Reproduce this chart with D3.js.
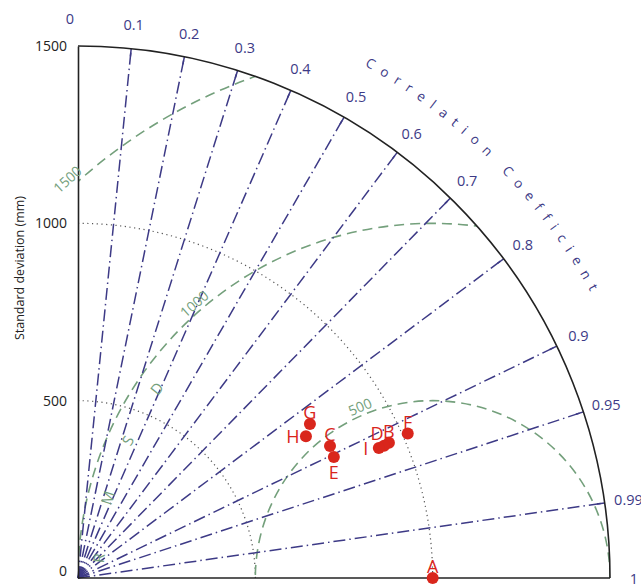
<!DOCTYPE html>
<html>
<head>
<meta charset="utf-8">
<script src="https://cdn.jsdelivr.net/npm/d3@7"></script>
<style>
  body { margin: 0; background: #fff; }
  text { font-family: "Open Sans", "Noto Sans", sans-serif; }
</style>
</head>
<body>
<svg width="641" height="585"></svg>
<script>
// model skill: standard deviation (mm) and correlation with the observed series
var names = ["A", "B", "C", "D", "E", "F", "G", "H", "I"];
var stdDevs = [1000, 956, 802, 940, 798, 1015, 785, 757, 924];
var correlations = [1, 0.917, 0.886, 0.918, 0.904, 0.916, 0.833, 0.849, 0.918];
var labelSides = ["top", "top", "top", "topleft", "bottom", "top", "top", "left", "left"];

var corrTicks = [0, 0.1, 0.2, 0.3, 0.4, 0.5, 0.6, 0.7, 0.8, 0.9, 0.95, 0.99, 1];
var stdTicks = [0, 500, 1000, 1500];
var stdArcs = [500, 1000];
var rmsdArcs = [500, 1000, 1500];
var refStd = 1000;
var maxStd = 1500;

var svg = d3.select("svg");
var x0 = 78, y0 = 578;
var r = d3.scaleLinear().domain([0, maxStd]).range([0, 532]);
var y = d3.scaleLinear().domain([0, maxStd]).range([y0, y0 - 532]);

var blue = "#3d3a86", green = "#74a07c", red = "#d9261c";

function px(std, corr) { return x0 + r(std) * corr; }
function py(std, corr) { return y0 - r(std) * Math.sin(Math.acos(corr)); }

// clip everything to the quarter disc
var R = r(maxStd);
svg.append("clipPath").attr("id", "quad")
  .append("path")
  .attr("d", "M" + x0 + "," + y0 + "L" + x0 + "," + (y0 - R) +
    "A" + R + "," + R + " 0 0 1 " + (x0 + R) + "," + y0 + "Z");

var g = svg.append("g").attr("clip-path", "url(#quad)");

// standard deviation arcs (dotted)
stdArcs.forEach(function (s) {
  var p = d3.path();
  p.arc(x0, y0, r(s), -Math.PI / 2, 0);
  g.append("path").attr("d", p.toString())
    .attr("fill", "none").attr("stroke", "#555")
    .attr("stroke-width", 1.2).attr("stroke-dasharray", "1.2,3.5");
});

// RMSD arcs around the reference (dashed green)
var cx = x0 + r(refStd);
rmsdArcs.forEach(function (v) {
  g.append("circle").attr("cx", cx).attr("cy", y0).attr("r", r(v))
    .attr("fill", "none").attr("stroke", green)
    .attr("stroke-width", 1.6).attr("stroke-dasharray", "10,6");
});

// correlation spokes (dash-dot)
corrTicks.slice(1, -1).forEach(function (c) {
  svg.append("line")
    .attr("x1", x0).attr("y1", y0)
    .attr("x2", px(maxStd, c)).attr("y2", py(maxStd, c))
    .attr("stroke", blue).attr("stroke-width", 1.5)
    .attr("stroke-dasharray", "12,4,1.5,4");
  svg.append("line")
    .attr("x1", px(maxStd - 22, c)).attr("y1", py(maxStd - 22, c))
    .attr("x2", px(maxStd, c)).attr("y2", py(maxStd, c))
    .attr("stroke", blue).attr("stroke-width", 1.5);
});

// outer arc and axes
var outer = d3.path();
outer.arc(x0, y0, R, -Math.PI / 2, 0);
svg.append("path").attr("d", outer.toString())
  .attr("fill", "none").attr("stroke", "#222").attr("stroke-width", 1.6);
svg.append("line").attr("x1", x0).attr("y1", y0).attr("x2", x0 + R).attr("y2", y0)
  .attr("stroke", "#222").attr("stroke-width", 1.6);

var yAxis = svg.append("g")
  .attr("transform", "translate(" + x0 + ",0)")
  .call(d3.axisLeft(y).tickValues(stdTicks).tickFormat(d3.format("d"))
    .tickSize(0).tickPadding(11));
yAxis.select(".domain").attr("stroke", "#222").attr("stroke-width", 1.6);
yAxis.selectAll("text").attr("font-size", 14).attr("fill", "#222")
  .style("font-family", "'Open Sans', sans-serif")
  .attr("y", function (d) { return d === 0 ? -7 : 0; });

svg.append("text")
  .attr("transform", "translate(19," + 268 + ") rotate(-90)")
  .attr("text-anchor", "middle").attr("dominant-baseline", "central")
  .attr("font-size", 12.5).attr("fill", "#222")
  .text("Standard deviation (mm)");

// correlation tick labels
svg.selectAll(".clab").data(corrTicks).enter().append("text")
  .attr("class", "clab")
  .attr("x", function (c) { return x0 + (R + 24) * c - (c === 0 ? 8 : 0); })
  .attr("y", function (c) { return y0 - (R + 24) * Math.sin(Math.acos(c)) - (c === 0 ? 4 : 0); })
  .attr("text-anchor", "middle").attr("dominant-baseline", "central")
  .attr("font-size", 14.5).attr("fill", blue)
  .text(function (c) { return c; });

// curved titles
var deg = Math.PI / 180;
function arcPath(id, cxp, cyp, rad, a0, a1) {
  var d = "M" + (cxp + rad * Math.cos(a0)) + "," + (cyp - rad * Math.sin(a0)) +
    "A" + rad + "," + rad + " 0 0 1 " + (cxp + rad * Math.cos(a1)) + "," + (cyp - rad * Math.sin(a1));
  svg.append("path").attr("id", id).attr("d", d).attr("fill", "none");
}
function curvedText(id, str, size, color, span, startOffset) {
  var t = svg.append("text").attr("font-size", size).attr("fill", color);
  var tp = t.append("textPath").attr("href", "#" + id).attr("startOffset", startOffset).text(str);
  var len = t.node().getComputedTextLength();
  var n = str.length;
  tp.attr("letter-spacing", (span - len + len / n) / (n - 1));
}
arcPath("ccArc", x0, y0, 587, 62 * deg, 20 * deg);
curvedText("ccArc", "Correlation Coefficient", 13.5, blue, 587 * 31 * deg, 587 * 1.2 * deg);

arcPath("rmsdArc", cx, y0, r(925), 179 * deg, 130 * deg);
curvedText("rmsdArc", "RMSD", 15, green, r(925) * 31 * deg, r(925) * 1.5 * deg);

// RMSD value labels
var rmsdLabelAngles = { 500: 113, 1000: 131, 1500: 132.5 };
rmsdArcs.forEach(function (v) {
  var a = rmsdLabelAngles[v] * deg, rr = r(v) + 9;
  var lx = cx + rr * Math.cos(a), ly = y0 - rr * Math.sin(a);
  svg.append("text")
    .attr("transform", "translate(" + lx + "," + ly + ") rotate(" + (-(rmsdLabelAngles[v] - 90)) + ")")
    .attr("text-anchor", "middle").attr("dominant-baseline", "central")
    .attr("font-size", 14).attr("fill", green)
    .text(v);
});

// model points
var pts = names.map(function (n, i) {
  return { name: n, x: px(stdDevs[i], correlations[i]), y: py(stdDevs[i], correlations[i]), side: labelSides[i] };
});
var off = { top: [0, -12], left: [-13, 0], bottom: [0, 15], topleft: [-7, -13] };

svg.selectAll(".pt").data(pts).enter().append("circle")
  .attr("class", "pt")
  .attr("cx", function (d) { return d.x; })
  .attr("cy", function (d) { return d.y; })
  .attr("r", 6).attr("fill", red);

svg.selectAll(".plab").data(pts).enter().append("text")
  .attr("class", "plab")
  .attr("x", function (d) { return d.x + off[d.side][0]; })
  .attr("y", function (d) { return d.y + off[d.side][1]; })
  .attr("text-anchor", "middle").attr("dominant-baseline", "central")
  .attr("font-size", 18).attr("fill", red)
  .text(function (d) { return d.name; });
</script>
</body>
</html>
